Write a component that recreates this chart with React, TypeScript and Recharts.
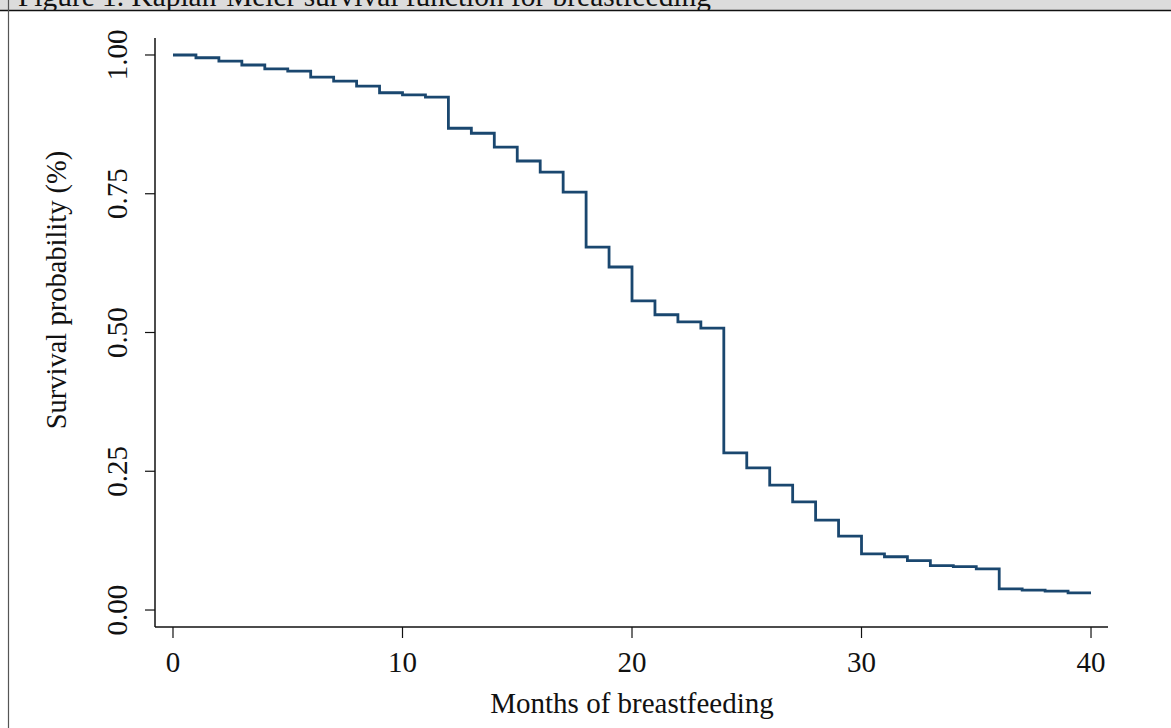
import React from "react";
import { LineChart, Line, XAxis, YAxis } from "recharts";

const TITLE = "Figure 1. Kaplan-Meier survival function for breastfeeding";
const X_LABEL = "Months of breastfeeding";
const Y_LABEL = "Survival probability (%)";

const months = [
  0, 1, 2, 3, 4, 5, 6, 7, 8, 9, 10, 11, 12, 13, 14, 15, 16, 17, 18, 19, 20,
  21, 22, 23, 24, 25, 26, 27, 28, 29, 30, 31, 32, 33, 34, 35, 36, 37, 38, 39, 40,
];

// survival estimate for each month (value held until the next month)
const survival = [
  1.0, 0.995, 0.989, 0.982, 0.975, 0.971, 0.96, 0.953, 0.944, 0.932, 0.928,
  0.924, 0.868, 0.859, 0.834, 0.809, 0.789, 0.753, 0.654, 0.618, 0.557,
  0.532, 0.519, 0.508, 0.283, 0.256, 0.225, 0.195, 0.162, 0.133, 0.101,
  0.096, 0.089, 0.08, 0.078, 0.074, 0.038, 0.036, 0.034, 0.031, 0.031,
];

const xTicks = [0, 10, 20, 30, 40];
const yTicks = [0, 0.25, 0.5, 0.75, 1];

const data = months.map((m, i) => ({ month: m, s: survival[i] }));

const FONT = "'Liberation Serif', 'Times New Roman', serif";
const NAVY = "#1a476f";

function XTick(props: any) {
  const { x, payload } = props;
  return (
    <text x={x} y={672} textAnchor="middle" fontSize={29} fontFamily={FONT} fill="#111">
      {payload.value}
    </text>
  );
}

function YTick(props: any) {
  const { y, payload } = props;
  const bx = 127;
  return (
    <text
      x={bx}
      y={y}
      textAnchor="middle"
      fontSize={29}
      fontFamily={FONT}
      fill="#111"
      transform={`rotate(-90, ${bx}, ${y})`}
    >
      {Number(payload.value).toFixed(2)}
    </text>
  );
}

export default function App() {
  return (
    <div
      style={{
        position: "absolute",
        left: 0,
        top: 0,
        width: 1171,
        height: 728,
        background: "#fff",
        overflow: "hidden",
      }}
    >
      {/* figure frame: grey caption band (title cut by the crop), rule, left border */}
      <svg width={1171} height={728} style={{ position: "absolute", left: 0, top: 0 }}>
        <defs>
          <clipPath id="band">
            <rect x={0} y={0} width={1171} height={10} />
          </clipPath>
        </defs>
        <rect x={0} y={0} width={1171} height={10} fill="#dcdcdc" />
        <text x={18} y={6} fontSize={29.4} fontFamily={FONT} fill="#111" clipPath="url(#band)">
          {TITLE}
        </text>
        <line x1={0} y1={10.5} x2={1171} y2={10.5} stroke="#111" strokeWidth={1.5} />
        <line x1={8.5} y1={0} x2={8.5} y2={728} stroke="#555" strokeWidth={1.2} />
        <text x={632} y={713} textAnchor="middle" fontSize={29} fontFamily={FONT} fill="#111">
          {X_LABEL}
        </text>
        <text
          x={66}
          y={290}
          textAnchor="middle"
          fontSize={28.5}
          fontFamily={FONT}
          fill="#111"
          transform="rotate(-90, 66, 290)"
        >
          {Y_LABEL}
        </text>
      </svg>
      <div style={{ position: "absolute", left: 0, top: 0 }}>
        <LineChart
          width={1171}
          height={728}
          data={data}
          margin={{ top: 38, right: 63, bottom: 41, left: 55 }}
        >
          <XAxis
            dataKey="month"
            type="number"
            domain={[-0.784, 40.74]}
            allowDataOverflow
            ticks={xTicks}
            interval={0}
            height={60}
            tickSize={11}
            axisLine={{ stroke: "#111", strokeWidth: 1.5 }}
            tickLine={{ stroke: "#111", strokeWidth: 1.2 }}
            tick={<XTick />}
          />
          <YAxis
            type="number"
            domain={[-0.0306, 1.0306]}
            allowDataOverflow
            ticks={yTicks}
            interval={0}
            width={100}
            tickSize={10}
            axisLine={{ stroke: "#111", strokeWidth: 1.5 }}
            tickLine={{ stroke: "#111", strokeWidth: 1.2 }}
            tick={<YTick />}
          />
          <Line
            type="stepAfter"
            dataKey="s"
            stroke={NAVY}
            strokeWidth={2.8}
            dot={false}
            activeDot={false}
            isAnimationActive={false}
          />
        </LineChart>
      </div>
    </div>
  );
}
